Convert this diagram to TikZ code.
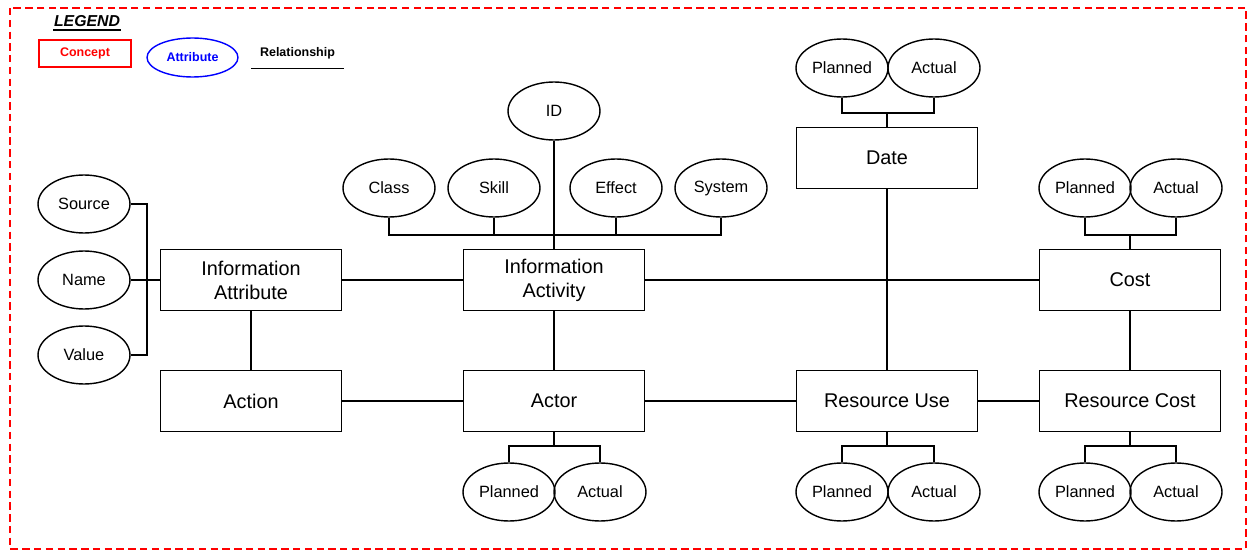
\documentclass[tikz,border=0pt]{standalone}
\usepackage{fontspec}
\setmainfont{Liberation Sans}
\usetikzlibrary{shapes.geometric}

\begin{document}
\begin{tikzpicture}[x=0.02cm,y=-0.02cm,line width=0.8pt]
\tikzstyle{every node}=[font=\fontsize{11.3}{13.7}\selectfont]
\tikzstyle{concept}=[draw,rectangle,minimum width=3.62cm,minimum height=1.22cm,align=center,inner sep=0pt]
\tikzstyle{attrib}=[draw,ellipse,minimum width=1.84cm,minimum height=1.16cm,inner sep=0pt,font=\fontsize{9.3}{11}\selectfont]
\tikzstyle{legend}=[font=\bfseries\fontsize{7.1}{8.5}\selectfont,inner sep=0pt]

\useasboundingbox (0,0) rectangle (1249,554);
\draw[red,line width=1.5pt,dash pattern=on 4.2pt off 2.5pt] (10,8) rectangle (1246,549);

% legend
\node[font=\bfseries\itshape\fontsize{9}{11}\selectfont,inner sep=0pt] (leg) at (87,21) {LEGEND};
\draw[line width=1.1pt] ([yshift=-1.5pt]leg.south west) -- ([yshift=-1.5pt]leg.south east);
\node[legend,red,draw,minimum width=1.84cm,minimum height=0.54cm] (lconcept) at (85,53.5) {Concept};
\node[legend,blue,draw,ellipse,minimum width=1.82cm,minimum height=0.78cm] (lattr) at (192.5,57.5) {Attribute};
\node[legend,minimum width=1.82cm,minimum height=0.58cm] (lrel) at (297.5,53) {Relationship};
\draw[line width=0.6pt] (lrel.south west) -- (lrel.south east);

% concepts
\node[concept] (infoattr) at (251,280) {Information\\Attribute};
\node[concept] (infoact) at (554,280) {Information\\Activity};
\node[concept] (date) at (887,158) {Date};
\node[concept] (cost) at (1130,280) {Cost};
\node[concept] (action) at (251,401) {Action};
\node[concept] (actor) at (554,401) {Actor};
\node[concept] (resuse) at (887,401) {Resource Use};
\node[concept] (rescost) at (1130,401) {Resource Cost};

% attributes
\node[attrib] (source) at (84,204) {Source};
\node[attrib] (name) at (84,280) {Name};
\node[attrib] (value) at (84,355) {Value};
\node[attrib] (id) at (554,111) {ID};
\node[attrib] (class) at (389,188) {Class};
\node[attrib] (skill) at (494,188) {Skill};
\node[attrib] (effect) at (616,188) {Effect};
\node[attrib] (system) at (721,188) {System};
\node[attrib] (dplan) at (842,68) {Planned};
\node[attrib] (dact) at (934,68) {Actual};
\node[attrib] (cplan) at (1085,188) {Planned};
\node[attrib] (cact) at (1176,188) {Actual};
\node[attrib] (aplan) at (509,492) {Planned};
\node[attrib] (aact) at (600,492) {Actual};
\node[attrib] (uplan) at (842,492) {Planned};
\node[attrib] (uact) at (934,492) {Actual};
\node[attrib] (rplan) at (1085,492) {Planned};
\node[attrib] (ract) at (1176,492) {Actual};

% attribute joints
\coordinate (srcbus) at (147,280);
\draw (source.east) -| (srcbus) |- (value.east);
\draw (name) -- (srcbus) -- (infoattr);

\coordinate (actbus) at (554,235);
\draw (class.south) |- (actbus) -| (system.south);
\draw (skill.south) -- (skill.south |- actbus);
\draw (effect.south) -- (effect.south |- actbus);
\draw (id) -- (infoact);

\coordinate (datebus) at (887,113);
\draw (dplan.south) |- (datebus) -| (dact.south);
\draw (datebus) -- (date);

\coordinate (costbus) at (1130,235);
\draw (cplan.south) |- (costbus) -| (cact.south);
\draw (costbus) -- (cost);

\coordinate (actorbus) at (554,446);
\draw (aplan.north) |- (actorbus) -| (aact.north);
\draw (actorbus) -- (actor);

\coordinate (usebus) at (887,446);
\draw (uplan.north) |- (usebus) -| (uact.north);
\draw (usebus) -- (resuse);

\coordinate (rcbus) at (1130,446);
\draw (rplan.north) |- (rcbus) -| (ract.north);
\draw (rcbus) -- (rescost);

% relationships
\draw (infoattr) -- (infoact) -- (cost);
\draw (date) -- (resuse);
\draw (cost) -- (rescost);
\draw (infoattr) -- (action);
\draw (infoact) -- (actor);
\draw (action) -- (actor) -- (resuse) -- (rescost);
\end{tikzpicture}
\end{document}
